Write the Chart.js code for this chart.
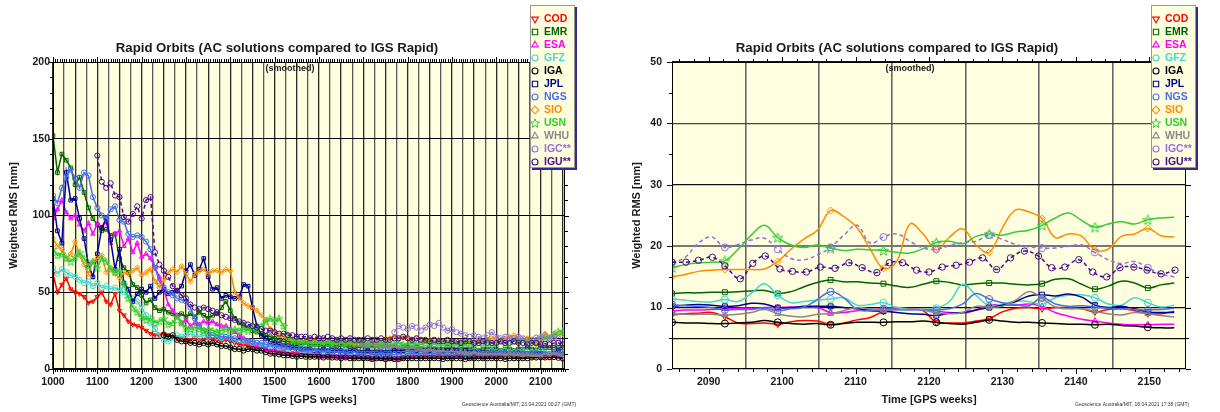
<!DOCTYPE html>
<html>
<head>
<meta charset="utf-8">
<script src="https://cdn.jsdelivr.net/npm/chart.js@4/dist/chart.umd.min.js"></script>
<style>
  html, body { margin: 0; padding: 0; background: #fff; }
  #wrap { position: relative; width: 1220px; height: 412px; }
  canvas { position: absolute; top: 0; }
</style>
</head>
<body>
<div id="wrap">
  <canvas id="left" width="610" height="412" style="left:0"></canvas>
  <canvas id="right" width="610" height="412" style="left:610px"></canvas>
</div>
<script>
// analysis centres, same order as the legend
const acNames = ['COD', 'EMR', 'ESA', 'GFZ', 'IGA', 'JPL', 'NGS', 'SIO', 'USN', 'WHU', 'IGC**', 'IGU**'];
const acColors = ['#ff0000', '#006400', '#ff00ff', '#40d8d0', '#000000', '#000090',
                  '#4a6ee6', '#ff8c00', '#33cc33', '#888888', '#9370db', '#4b0a8c'];

// ---- left panel: full history, one value every 10 GPS weeks ----
const stepL = 10;
const gridWeeksL = [1000, 1025, 1050, 1075, 1100, 1125, 1150, 1175, 1200, 1225, 1250, 1275, 1300,
  1325, 1350, 1375, 1400, 1425, 1450, 1475, 1500, 1525, 1550, 1575, 1600, 1625, 1650, 1675, 1700,
  1725, 1750, 1775, 1800, 1825, 1850, 1875, 1900, 1925, 1950, 1975, 2000, 2025, 2050, 2075, 2100,
  2125, 2150];
const yTicksL = [0, 20, 50, 100, 150, 200];

const codL = [62, 50, 55, 59, 52, 50, 49, 47, 43, 44,
  47, 50, 44, 42, 49, 38, 35, 31, 29, 28,
  27, 25, 23, 22, 22, 23, 22, 21, 20, 20,
  19, 19, 20, 19, 19, 20, 19, 19, 18, 19,
  18, 17, 16, 16, 15, 15, 14, 14, 13, 12,
  12, 11, 11, 10, 10, 10, 9.5, 9, 9, 9,
  9, 8.5, 8.5, 9, 8.5, 8, 8, 8.5, 8, 8,
  7.5, 8, 7.5, 7.5, 7, 7.5, 7, 7.5, 7, 7.5,
  8, 8, 8.5, 8, 8, 8.5, 8, 8.5, 8, 8,
  8, 8.5, 8, 8, 7.5, 8, 8, 7.5, 8, 8,
  8, 8.5, 8, 9, 8, 7.5, 8, 8.5, 8, 8.5,
  7.5, 8, 7.5, 9, 9.5, 9];
const emrL = [152, 128, 140, 136, 131, 120, 125, 115, 105, 98,
  94, 90, 91, 87, 88, 72, 66, 63, 55, 53,
  48, 43, 45, 40, 38, 39, 37, 36, 35, 36,
  34, 36, 34, 37, 35, 33, 35, 36, 40, 44,
  38, 33, 30, 28, 27, 25, 24, 23, 22, 21,
  20, 19, 18, 18, 17, 17, 16, 17, 16, 16,
  16, 15, 16, 15, 15, 16, 15, 15, 15, 14,
  15, 14, 15, 14, 14, 15, 14, 14, 13, 14,
  14, 13, 14, 13, 13, 14, 13, 13, 13, 14,
  13, 13, 14, 13, 13, 13, 12, 13, 13, 13,
  13, 12, 13, 13, 12, 13, 13, 14, 13, 12.5,
  14, 14, 14, 14, 14, 14];
const esaL = [98, 104, 110, 102, 98, 100, 94, 90, 95, 88,
  95, 92, 96, 82, 88, 90, 80, 85, 76, 82,
  73, 75, 72, 66, 60, 52, 42, 38, 35, 30,
  32, 28, 30, 29, 31, 30, 31, 29, 28, 28,
  26, 24, 22, 20, 18, 16, 15, 14, 13, 12,
  12, 11, 11, 10, 10, 9.5, 9, 9, 8.5, 9,
  8.5, 8, 8.5, 8, 8, 7.5, 8, 7.5, 7, 7.5,
  7, 7, 6.5, 7, 6.5, 6, 6.5, 6, 6.5, 7,
  8, 9, 9.5, 10, 10, 10, 9.5, 10, 10, 9.5,
  10, 9.5, 10, 10, 9.5, 10, 10, 9.5, 10, 10,
  10, 9.5, 10, 10, 9.5, 10, 10, 9.5, 9.5, 9.8,
  10, 9.5, 9.2, 10.4, 8, 7.3];
const gfzL = [66, 62, 65, 63, 61, 60, 58, 56, 57, 54,
  56, 53, 54, 52, 53, 51, 50, 48, 46, 44,
  40, 35, 30, 26, 22, 19, 18, 20, 22, 21,
  22, 23, 22, 21, 22, 21, 22, 21, 20, 21,
  20, 19, 19, 18, 18, 17, 17, 16, 16, 15,
  15, 14, 14, 13, 13, 13, 12, 13, 12, 12,
  12, 12, 11, 12, 11, 11, 12, 11, 11, 11,
  11, 12, 11, 11, 11, 12, 11, 11, 11, 12,
  11, 12, 11, 11, 12, 11, 11, 12, 11, 11,
  11, 12, 11, 11, 11, 12, 11, 11, 11, 12,
  11, 11, 12, 11, 11, 11, 12, 11, 11, 11,
  12, 10.5, 10, 10.6, 12, 10.7];
const igaStartL = 1250;
const igaL = [22, 21, 22, 19, 18, 18, 17, 17, 16, 17,
  16, 17, 16, 15, 15, 14, 13, 13, 12, 13,
  13, 12, 12, 11, 10, 10, 9.5, 9, 9, 8.5,
  8, 8.5, 8, 8, 8, 8, 7.5, 8, 7.5, 7.5,
  7, 7.5, 7, 7, 7, 7, 7, 6.5, 7, 7,
  6.5, 7, 6.5, 6.5, 7, 7, 7, 7, 7, 7,
  7, 7, 7, 6.5, 7, 7, 7, 7, 6.5, 7,
  7, 7, 7, 7, 7, 7, 7, 6.5, 7, 7,
  7, 7, 7, 7.5, 7.5, 7.6, 7.5, 7.7, 7.8, 7.3, 6.8];
const jplL = [111, 90, 82, 128, 110, 111, 98, 85, 68, 60,
  75, 92, 98, 84, 65, 78, 56, 52, 44, 49,
  52, 50, 54, 46, 50, 52, 49, 50, 51, 54,
  64, 68, 61, 65, 72, 60, 52, 53, 46, 48,
  47, 46, 47, 55, 54, 40, 28, 22, 20, 18,
  17, 16, 15, 15, 14, 14, 13, 13, 13, 12,
  12, 13, 12, 12, 12, 12, 11, 12, 12, 11,
  11, 12, 11, 11, 11, 11, 11, 12, 12, 12,
  13, 13, 12, 13, 12, 12, 13, 12, 12, 12,
  12, 12, 11, 12, 11, 11, 11, 11, 10.5, 10.5,
  10.5, 10, 10.5, 10, 10, 10.5, 10, 10, 10, 10.4,
  10.1, 9.8, 8.8, 10.3, 12, 9.3];
const ngsL = [113, 108, 118, 125, 130, 124, 118, 128, 126, 112,
  105, 100, 98, 104, 106, 97, 96, 88, 86, 87,
  86, 83, 78, 66, 57, 53, 50, 48, 46, 45,
  44, 40, 33, 28, 25, 23, 22, 22, 21, 21,
  20, 20, 19, 19, 18, 18, 17, 17, 16, 16,
  15, 15, 14, 14, 13, 13, 13, 12, 12, 12,
  12, 11, 12, 11, 11, 11, 11, 10, 11, 10,
  10, 10, 10, 10, 9.5, 10, 10, 9.5, 10, 10,
  10, 10.5, 10, 10, 10.5, 10, 10, 10.5, 10, 10,
  10, 10, 10.5, 10, 10, 10, 10.5, 10, 10, 10,
  10, 10.5, 10, 10, 10, 10.5, 10, 10, 10, 10,
  9.6, 9.6, 9.7, 10.8, 10.2, 9.6];
const sioL = [85, 80, 78, 72, 75, 83, 74, 68, 62, 70,
  72, 74, 63, 66, 62, 59, 63, 62, 64, 66,
  61, 63, 65, 57, 53, 58, 63, 65, 63, 67,
  62, 57, 62, 64, 65, 62, 64, 64, 63, 65,
  64, 50, 46, 43, 41, 40, 38, 35, 32, 26,
  24, 22, 21, 20, 19, 19, 18, 18, 19, 18,
  18, 17, 18, 17, 17, 18, 17, 17, 16, 17,
  17, 16, 17, 17, 18, 19, 20, 21, 20, 21,
  20, 19, 20, 19, 18, 19, 18, 19, 18, 18,
  18, 17, 18, 17, 18, 18, 19, 18, 19, 20,
  20, 19, 20, 21, 22, 20, 19, 20, 18, 16,
  17, 23, 19.5, 23, 22, 23];
const usnL = [78, 74, 75, 72, 70, 73, 76, 72, 67, 70,
  66, 72, 70, 65, 63, 64, 55, 46, 40, 37,
  34, 32, 33, 30, 31, 33, 29, 30, 34, 30,
  27, 26, 27, 26, 25, 26, 25, 24, 25, 26,
  25, 26, 25, 26, 25, 27, 26, 28, 31, 33,
  31, 33, 28, 22, 19, 18, 17, 18, 17, 17,
  17, 18, 17, 17, 18, 17, 17, 18, 17, 17,
  17, 16, 17, 16, 16, 17, 16, 16, 17, 16,
  16, 17, 16, 16, 17, 17, 16, 17, 17, 16,
  17, 17, 16, 17, 17, 17, 17, 17, 18, 17,
  17, 18, 17, 18, 18, 18, 19, 18, 18, 17.5,
  21, 19.5, 20.5, 22, 24.5, 24.5];
const whuStartL = 1690;
const whuL = [16, 15, 15, 16, 15, 14, 15, 14, 15, 14,
  14, 13, 14, 13, 13, 12, 13, 12, 12, 12,
  11, 12, 11, 11, 11, 10, 11, 10, 10, 10,
  10, 10, 10, 9.5, 10, 9.5, 9.5, 9, 9.5, 9,
  9, 8.7, 10, 9.5, 10.2, 9.8, 9];
const igcStartL = 1770;
const igcL = [24, 28, 27, 26, 28, 27, 25, 27, 29, 28,
  30, 27, 25, 26, 24, 23, 22, 21, 22, 21,
  20, 22, 24, 21, 20, 21, 20, 20, 21, 20,
  19, 19, 20.5, 19.5, 22, 20, 21, 20, 16];
const iguStartL = 1100;
const iguL = [139, 122, 118, 121, 113, 112, 99, 96, 101, 106,
  98, 110, 112, 76, 68, 64, 60, 54, 51, 48,
  46, 42, 40, 39, 40, 39, 38, 37, 35, 34,
  33, 32, 31, 30, 29, 28, 27, 26, 25, 25,
  24, 23, 23, 22, 22, 21, 21, 21, 20, 21,
  20, 20, 21, 20, 19, 20, 19, 20, 19, 19,
  19, 20, 19, 19, 20, 19, 19, 20, 20, 21,
  20, 19, 20, 19, 19, 18, 19, 18, 18, 19,
  18, 18, 17, 18, 18, 17, 17, 18, 17, 17,
  17, 18, 17, 17, 18, 17, 17, 16, 17, 17,
  16, 16.5, 16, 17, 17, 16];

// ---- right panel: last 70 weeks, smoothed ----
const weeksR = [2085.0, 2086.8, 2088.6, 2090.4, 2092.2, 2094.0, 2095.8, 2097.6, 2099.4, 2101.2,
  2103.0, 2104.8, 2106.6, 2108.4, 2110.2, 2112.0, 2113.8, 2115.6, 2117.4, 2119.2,
  2121.0, 2122.8, 2124.6, 2126.4, 2128.2, 2130.0, 2131.8, 2133.6, 2135.4, 2137.2,
  2139.0, 2140.8, 2142.6, 2144.4, 2146.2, 2148.0, 2149.8, 2151.6, 2153.4];
const weeksIguR = [2085.0, 2086.9, 2088.6, 2090.5, 2092.2, 2094.3, 2096.0, 2097.7, 2099.7, 2101.4,
  2103.3, 2105.2, 2107.2, 2109.1, 2110.9, 2112.9, 2114.6, 2116.4, 2118.3, 2120.0,
  2121.8, 2123.7, 2125.5, 2127.3, 2129.2, 2131.1, 2133.0, 2134.9, 2136.7, 2138.5,
  2140.4, 2142.3, 2144.2, 2146.0, 2147.9, 2149.7, 2151.6, 2153.5];
const gridWeeksR = [2090, 2095, 2100, 2105, 2110, 2115, 2120, 2125, 2130, 2135, 2140, 2145, 2150];
const yTicksR = [0, 5, 10, 20, 30, 40, 50];

const codR = [8.8, 9.0, 9.1, 9.2, 8.5, 7.5, 7.4, 7.5, 7.3, 7.7,
  7.9, 7.8, 7.3, 7.5, 8.0, 8.4, 9.4, 9.8, 9.8, 9.5,
  7.6, 7.5, 7.5, 7.8, 8.2, 9.3, 9.9, 10.0, 9.8, 10.0,
  10.0, 9.8, 9.3, 9.7, 9.8, 9.5, 9.0, 9.0, 9.4];
const emrR = [12.3, 12.4, 12.4, 12.5, 12.5, 12.6, 12.7, 12.8, 12.3, 12.6,
  13.4, 14.1, 14.5, 14.2, 14.2, 14.0, 13.9, 13.5, 13.3, 13.8,
  14.3, 14.1, 13.7, 13.9, 14.0, 14.0, 13.8, 13.7, 13.9, 14.6,
  14.7, 13.8, 13.0, 13.5, 14.3, 14.0, 13.2, 13.7, 14.0];
const esaR = [9.5, 9.6, 9.6, 9.7, 9.8, 9.9, 9.9, 10.0, 10.0, 10.1,
  10.1, 10.0, 9.2, 9.2, 9.5, 9.7, 9.8, 10.0, 9.8, 9.6,
  9.4, 9.2, 9.1, 9.6, 10.4, 10.4, 10.4, 10.6, 10.2, 9.2,
  8.6, 8.1, 7.8, 7.5, 7.3, 7.2, 7.2, 7.3, 7.3];
const gfzR = [11.4, 11.2, 11.0, 10.9, 11.3, 11.0, 12.3, 13.9, 12.0, 10.8,
  11.0, 11.2, 11.4, 11.6, 10.4, 10.5, 10.8, 10.0, 9.8, 9.7,
  9.9, 11.0, 13.8, 12.0, 10.3, 10.6, 11.0, 11.0, 10.5, 11.6,
  12.0, 12.1, 11.6, 10.6, 10.4, 11.6, 10.8, 10.1, 10.4];
const igaR = [7.6, 7.5, 7.5, 7.4, 7.4, 7.5, 7.6, 7.9, 7.6, 7.4,
  7.3, 7.4, 7.2, 7.4, 7.6, 7.6, 7.6, 7.7, 7.7, 7.8,
  7.6, 7.4, 7.3, 7.6, 8.0, 7.8, 7.6, 7.6, 7.5, 7.4,
  7.3, 7.3, 7.2, 7.3, 7.1, 7.0, 6.8, 6.7, 6.7];
const jplR = [10.2, 10.4, 10.5, 10.4, 10.2, 10.3, 10.7, 10.6, 10.0, 10.0,
  10.2, 10.2, 10.2, 10.0, 9.8, 9.5, 9.4, 9.2, 9.0, 8.9,
  8.7, 9.1, 9.2, 9.6, 10.0, 10.4, 11.0, 11.9, 12.1, 11.9,
  12.2, 11.7, 10.4, 10.0, 10.2, 9.8, 9.3, 9.2, 9.2];
const ngsR = [10.5, 10.3, 10.2, 10.0, 9.6, 9.7, 9.7, 9.9, 9.5, 9.8,
  10.1, 11.3, 12.6, 11.6, 9.7, 9.5, 9.8, 9.7, 9.6, 9.7,
  9.6, 9.8, 10.6, 12.3, 11.4, 10.8, 10.5, 10.3, 11.6, 10.6,
  10.2, 10.3, 10.1, 9.9, 9.8, 9.7, 9.6, 9.7, 9.9];
const sioR = [15.0, 15.4, 15.9, 16.1, 16.2, 16.2, 16.2, 16.3, 17.5, 19.5,
  21.2, 22.6, 25.8, 24.8, 23.0, 19.5, 16.4, 17.5, 23.6, 22.0,
  19.4, 21.5, 22.8, 20.2, 19.0, 23.0, 25.9, 25.6, 24.5, 21.4,
  22.0, 21.6, 19.4, 19.5, 21.6, 22.0, 22.9, 21.7, 21.5];
const usnR = [16.5, 17.0, 17.3, 17.4, 17.6, 19.5, 21.8, 23.4, 21.4, 20.2,
  19.8, 20.2, 19.7, 19.3, 19.5, 19.4, 19.3, 19.0, 18.9, 19.6,
  20.6, 20.8, 20.4, 21.6, 22.0, 21.8, 22.3, 22.6, 23.4, 24.6,
  25.4, 24.2, 23.1, 23.6, 24.0, 23.6, 24.3, 24.6, 24.7];
const whuR = [9.0, 8.9, 8.9, 8.9, 8.8, 8.9, 9.2, 9.7, 9.0, 8.6,
  8.5, 8.9, 9.0, 9.5, 10.0, 9.8, 9.6, 9.6, 9.8, 9.6,
  9.1, 9.0, 9.2, 10.2, 10.1, 10.2, 11.2, 12.6, 11.5, 10.1,
  9.8, 9.8, 9.4, 9.0, 8.8, 9.2, 9.0, 8.7, 8.5];
const igcR = [17.3, 18.2, 20.5, 21.5, 19.8, 20.3, 21.0, 21.3, 19.5, 18.0,
  17.8, 18.6, 19.8, 21.8, 23.4, 20.5, 21.5, 22.0, 20.8, 19.7,
  19.5, 20.1, 20.6, 20.8, 21.8, 21.1, 20.3, 19.9, 19.7, 19.7,
  20.0, 20.2, 19.0, 17.8, 17.2, 17.5, 16.5, 15.5, 15.0];
const iguR = [17.4, 17.4, 17.7, 18.2, 16.8, 14.7, 17.2, 18.4, 16.3, 15.9,
  15.8, 16.6, 16.4, 17.3, 16.5, 15.7, 17.3, 17.3, 16.1, 15.8,
  16.6, 16.9, 17.4, 18.1, 16.2, 18.1, 19.2, 18.4, 16.5, 16.6,
  17.8, 15.8, 15.0, 16.5, 16.6, 16.1, 15.5, 16.1];

const FONT = '"Liberation Sans", Arial, Helvetica, sans-serif';
const CREAM = '#ffffe0';
const TITLE = 'Rapid Orbits (AC solutions compared to IGS Rapid)';

function starImage(size, color) {
  const c = document.createElement('canvas');
  c.width = c.height = size;
  const g = c.getContext('2d');
  g.strokeStyle = color;
  g.lineWidth = 1;
  g.beginPath();
  for (let k = 0; k < 10; k++) {
    const r = k % 2 ? size * 0.2 : size * 0.48;
    const a = -Math.PI / 2 + k * Math.PI / 5;
    const px = size / 2 + r * Math.cos(a), py = size / 2 + 0.5 + r * Math.sin(a);
    if (k) g.lineTo(px, py); else g.moveTo(px, py);
  }
  g.closePath();
  g.stroke();
  return c;
}

const shapes = ['triangle', 'rect', 'triangle', 'circle', 'circle', 'rect',
                'circle', 'rectRot', 'star', 'triangle', 'circle', 'circle'];
const rotations = [180, 0, 0, 0, 0, 0, 0, 0, 0, 0, 0, 0];

const stepPts = (start, vals) => vals.map((v, i) => ({x: start + stepL * i, y: v}));
const atPts = (weeks, vals) => vals.map((v, i) => ({x: weeks[i], y: v}));

function makeSets(seriesPts, starSize, radius, lineWidth, tension) {
  return seriesPts.map((pts, i) => ({
    label: acNames[i],
    data: pts,
    order: 20 - i,           // later centres are painted over earlier ones
    borderColor: acColors[i],
    backgroundColor: 'transparent',
    borderWidth: lineWidth,
    borderDash: i >= 10 ? [4, 3] : [],
    pointStyle: shapes[i] === 'star' ? starImage(starSize, acColors[i]) : shapes[i],
    pointRotation: rotations[i],
    pointRadius: radius(i),
    pointBorderWidth: 1,
    pointBackgroundColor: 'transparent',
    pointBorderColor: acColors[i],
    tension: tension,
    fill: false
  }));
}

const framePlugin = {
  id: 'frame',
  beforeDraw(chart) {
    const {ctx, chartArea: a} = chart;
    ctx.save();
    ctx.fillStyle = CREAM;
    ctx.fillRect(a.left, a.top, a.right - a.left, a.bottom - a.top);
    ctx.restore();
  },
  afterDraw(chart, args, o) {
    const {ctx, chartArea: a} = chart;
    const x = chart.scales.x, y = chart.scales.y;
    ctx.save();
    ctx.strokeStyle = '#000';
    ctx.lineWidth = 1;
    ctx.strokeRect(a.left + 0.5, a.top + 0.5, a.right - a.left - 1, a.bottom - a.top - 1);

    // tick marks on all four sides
    ctx.beginPath();
    for (let v = Math.ceil(x.min / o.xMinor) * o.xMinor; v <= x.max + 1e-6; v += o.xMinor) {
      const px = Math.round(x.getPixelForValue(v)) + 0.5;
      const len = v % o.xMajor === 0 ? 5 : 3;
      ctx.moveTo(px, a.bottom); ctx.lineTo(px, a.bottom + len);
      ctx.moveTo(px, a.top); ctx.lineTo(px, a.top - len);
    }
    for (let v = 0; v <= y.max + 1e-6; v += o.yMinor) {
      const py = Math.round(y.getPixelForValue(v)) + 0.5;
      const len = v % o.yMajor === 0 ? o.yTick : 3;
      ctx.moveTo(a.left, py); ctx.lineTo(a.left - len, py);
      ctx.moveTo(a.right, py); ctx.lineTo(a.right + len, py);
    }
    ctx.stroke();

    // titles and stamp
    const cx = (a.left + a.right) / 2;
    ctx.fillStyle = '#1a1a1a';
    ctx.textAlign = 'center';
    ctx.textBaseline = 'middle';
    ctx.font = `bold 13.2px ${FONT}`;
    ctx.fillText(TITLE, cx - 32, 48);
    ctx.font = `bold 9px ${FONT}`;
    ctx.fillText('(smoothed)', cx - 19, 69);
    ctx.textAlign = 'left';
    ctx.font = `5px ${FONT}`;
    ctx.fillStyle = '#333';
    ctx.fillText(o.stamp, o.stampX, 405);

    // legend box with drop shadow
    const lx = o.legendX, ly = 5, lw = 45, lh = 163;
    ctx.fillStyle = '#2e2e8a';
    ctx.fillRect(lx + 2, ly + 2, lw, lh);
    ctx.fillStyle = CREAM;
    ctx.fillRect(lx, ly, lw, lh);
    ctx.strokeStyle = '#999';
    ctx.strokeRect(lx + 0.5, ly + 0.5, lw - 1, lh - 1);
    chart.data.datasets.forEach((ds, i) => {
      const yy = ly + 14 + i * 13;
      const img = typeof ds.pointStyle === 'object';
      ctx.strokeStyle = ds.borderColor;
      ctx.fillStyle = 'rgba(0,0,0,0)';
      ctx.lineWidth = 1.1;
      Chart.helpers.drawPoint(ctx, {pointStyle: img ? starImage(10, ds.borderColor) : ds.pointStyle,
        rotation: ds.pointRotation, radius: ds.pointStyle === 'circle' ? 3 : 3.8, borderWidth: 1.1}, lx + 5, yy);
      ctx.fillStyle = ds.borderColor;
      ctx.font = `bold 10.5px ${FONT}`;
      ctx.textAlign = 'left';
      ctx.fillText(ds.label, lx + 14, yy + 0.5);
    });
    ctx.restore();
  }
};

const tickFont = {family: FONT, size: 10.5, weight: 'bold'};
const titleFont = {family: FONT, size: 11, weight: 'bold'};

function baseOptions(cfg) {
  return {
    responsive: false,
    animation: false,
    events: [],
    devicePixelRatio: 1,
    layout: {padding: {left: 0, right: cfg.padRight, top: 62, bottom: 0}},
    plugins: {
      legend: {display: false},
      tooltip: {enabled: false},
      title: {display: false},
      frame: cfg.frame
    },
    scales: {
      x: {
        type: 'linear', min: cfg.xMin, max: cfg.xMax,
        afterBuildTicks: s => { s.ticks = cfg.xGrid.map(v => ({value: v})); },
        afterFit: s => { s.height = 43; },
        ticks: {autoSkip: false, maxRotation: 0, padding: 2, color: '#1a1a1a', font: tickFont,
                callback: v => v % cfg.xLabelEvery === 0 ? String(v) : ''},
        grid: {color: cfg.xGridColor, lineWidth: cfg.xGridWidth, tickLength: 5, tickColor: 'transparent'},
        border: {display: false},
        title: {display: true, text: 'Time [GPS weeks]', color: '#1a1a1a', font: titleFont,
                padding: {top: 0, bottom: 5.4}}
      },
      y: {
        min: 0, max: cfg.yMax,
        afterBuildTicks: s => { s.ticks = cfg.yGrid.map(v => ({value: v})); },
        afterFit: s => { s.width = cfg.yWidth; },
        ticks: {padding: cfg.yPad, color: '#1a1a1a', font: tickFont,
                callback: v => cfg.yHide.includes(v) ? '' : String(v)},
        grid: {color: cfg.yGridColor, lineWidth: cfg.yGridWidth, tickLength: cfg.yTickLen, tickColor: 'transparent'},
        border: {display: false},
        title: {display: true, text: 'Weighted RMS [mm]', color: '#1a1a1a', font: titleFont,
                padding: {top: cfg.yTitlePad, bottom: 0}}
      }
    }
  };
}

// left chart
const leftSeries = [
  stepPts(1000, codL), stepPts(1000, emrL), stepPts(1000, esaL), stepPts(1000, gfzL),
  stepPts(igaStartL, igaL), stepPts(1000, jplL), stepPts(1000, ngsL), stepPts(1000, sioL),
  stepPts(1000, usnL), stepPts(whuStartL, whuL), stepPts(igcStartL, igcL), stepPts(iguStartL, iguL)
];
new Chart(document.getElementById('left'), {
  type: 'line',
  data: {datasets: makeSets(leftSeries, 8, () => 2.6, 1.5, 0)},
  options: baseOptions({
    padRight: 45, xMin: 1000, xMax: 2155, xGrid: gridWeeksL, xLabelEvery: 100,
    xGridColor: c => (c.tick && c.tick.value % 50 === 0) ? '#2a2a2a' : '#5a5a5a', xGridWidth: 1.3,
    yMax: 200, yGrid: yTicksL, yHide: [20], yWidth: 53, yPad: 0, yTickLen: 3, yTitlePad: 7.4,
    yGridColor: '#000', yGridWidth: 1,
    frame: {stamp: 'Geoscience Australia/MIT, 23.04.2021 00:27 (GMT)', stampX: 462, legendX: 530,
            xMinor: 5, xMajor: 100, yMinor: 10, yMajor: 50, yTick: 4}
  }),
  plugins: [framePlugin]
});

// right chart
const rightSeries = [
  atPts(weeksR, codR), atPts(weeksR, emrR), atPts(weeksR, esaR), atPts(weeksR, gfzR),
  atPts(weeksR, igaR), atPts(weeksR, jplR), atPts(weeksR, ngsR), atPts(weeksR, sioR),
  atPts(weeksR, usnR), atPts(weeksR, whuR), atPts(weeksR, igcR), atPts(weeksIguR, iguR)
];
new Chart(document.getElementById('right'), {
  type: 'line',
  data: {datasets: makeSets(rightSeries, 11,
    i => i === 11 ? 3.2 : (c => c.dataIndex % 4 === 0 ? 3.5 : 0), 1.5, 0.4)},
  options: baseOptions({
    padRight: 34, xMin: 2085, xMax: 2155, xGrid: gridWeeksR, xLabelEvery: 10,
    xGridColor: c => (c.tick && c.tick.value % 10 === 5) ? '#666' : 'transparent', xGridWidth: 1.6,
    yMax: 50, yGrid: yTicksR, yHide: [5], yWidth: 62, yPad: 5, yTickLen: 5, yTitlePad: 20.4,
    yGridColor: c => (c.tick && c.tick.value === 20) ? '#777' : (c.tick && c.tick.value === 40 ? '#444' : '#111'),
    yGridWidth: c => (c.tick && c.tick.value === 20) ? 2 : 1.2,
    frame: {stamp: 'Geoscience Australia/MIT, 18.04.2021 17:38 (GMT)', stampX: 465, legendX: 541,
            xMinor: 2, xMajor: 10, yMinor: 5, yMajor: 10, yTick: 5}
  }),
  plugins: [framePlugin]
});
</script>
</body>
</html>
